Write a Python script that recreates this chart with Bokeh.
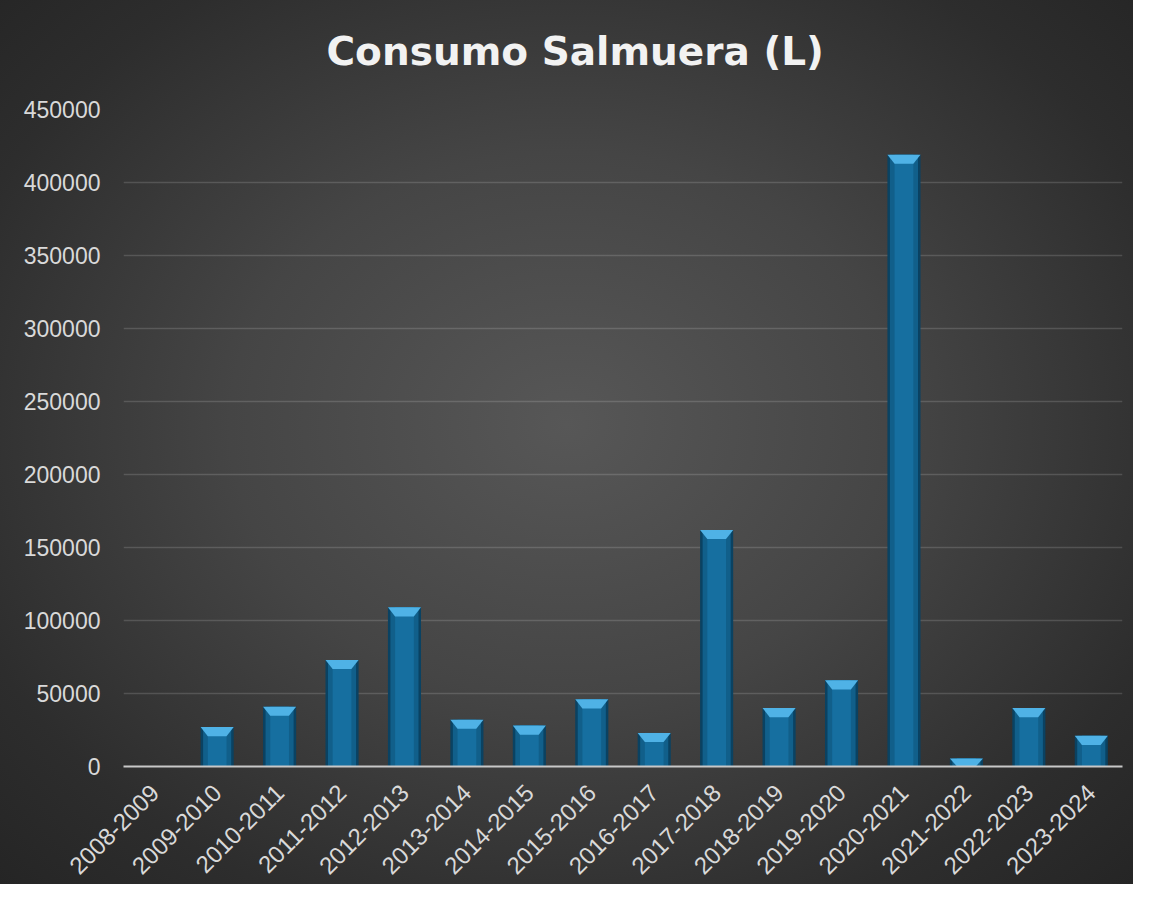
import math
from bokeh.plotting import figure
from bokeh.models import Range1d, FixedTicker, NumeralTickFormatter, Title
from bokeh.embed import file_html
from bokeh.resources import INLINE

categories = ["2008-2009", "2009-2010", "2010-2011", "2011-2012", "2012-2013",
              "2013-2014", "2014-2015", "2015-2016", "2016-2017", "2017-2018",
              "2018-2019", "2019-2020", "2020-2021", "2021-2022", "2022-2023",
              "2023-2024"]
values = [0, 27000, 41000, 73000, 109000, 32000, 28000, 46000, 23000, 162000,
          40000, 59000, 419000, 5500, 40000, 21000]
y_ticks = [0, 50000, 100000, 150000, 200000, 250000, 300000, 350000, 400000, 450000]
title_text = "Consumo Salmuera (L)"

xs = list(range(len(categories)))

p = figure(width=1133, height=884, output_backend="svg", toolbar_location=None,
           x_range=Range1d(-0.5, len(categories) - 0.5), y_range=Range1d(0, 450000),
           min_border_left=123, min_border_right=11, min_border_top=109,
           min_border_bottom=116)

p.styles = {"background": "radial-gradient(ellipse at 50% 48%, #575757 0%, #454545 42%, #2d2d2d 80%, #252525 100%)"}
p.background_fill_alpha = 0
p.border_fill_alpha = 0
p.outline_line_color = None

# spacer between title and plot frame, then the title
p.add_layout(Title(text=" ", standoff=2, text_font_size="26px"), "above")
p.add_layout(Title(text=title_text, align="left", offset=203, standoff=4,
                   text_font="DejaVu Sans", text_font_style="bold",
                   text_font_size="39px", text_color="#f2f2f2"), "above")

# grid
p.xgrid.grid_line_color = None
p.ygrid.ticker = FixedTicker(ticks=y_ticks)
p.ygrid.grid_line_color = "white"
p.ygrid.grid_line_alpha = 0.15
p.ygrid.grid_line_width = 1.5

# y axis
p.yaxis.ticker = FixedTicker(ticks=y_ticks)
p.yaxis.formatter = NumeralTickFormatter(format="0")
p.yaxis.axis_line_color = None
p.yaxis.major_tick_line_color = None
p.yaxis.minor_tick_line_color = None
p.yaxis.major_label_standoff = 17
p.yaxis.major_label_text_font = "Liberation Sans"
p.yaxis.major_label_text_font_size = "23px"
p.yaxis.major_label_text_color = "#d9d9d9"

# x axis
p.xaxis.ticker = FixedTicker(ticks=xs)
p.xaxis.major_label_overrides = {i: c for i, c in zip(xs, categories)}
p.xaxis.major_label_orientation = math.pi / 4
p.xaxis.axis_line_color = "#c8c8c8"
p.xaxis.axis_line_width = 2
p.xaxis.major_tick_line_color = None
p.xaxis.minor_tick_line_color = None
p.xaxis.major_label_standoff = 16
p.xaxis.major_label_text_font = "Liberation Sans"
p.xaxis.major_label_text_font_size = "24px"
p.xaxis.major_label_text_color = "#d9d9d9"

# bars (layered for a bevelled look)
p.vbar(x=xs, top=values, width=0.53, fill_color="#0a4262", line_color=None)
p.vbar(x=xs, top=values, width=0.45, fill_color="#115f8a", line_color=None)
p.vbar(x=xs, top=values, width=0.30, fill_color="#166fa0", line_color=None)

# top highlight trapezoids
depth = 6200
hw_top = 0.53 / 2
hw_bot = 0.30 / 2
px, py = [], []
for xi, v in zip(xs, values):
    if v <= 0:
        continue
    d = min(depth, v)
    px.append([xi - hw_top, xi + hw_top, xi + hw_bot, xi - hw_bot])
    py.append([v, v, v - d, v - d])
p.patches(px, py, fill_color="#4fb2e6", line_color=None)

open("out.html", "w").write(file_html(p, INLINE))
